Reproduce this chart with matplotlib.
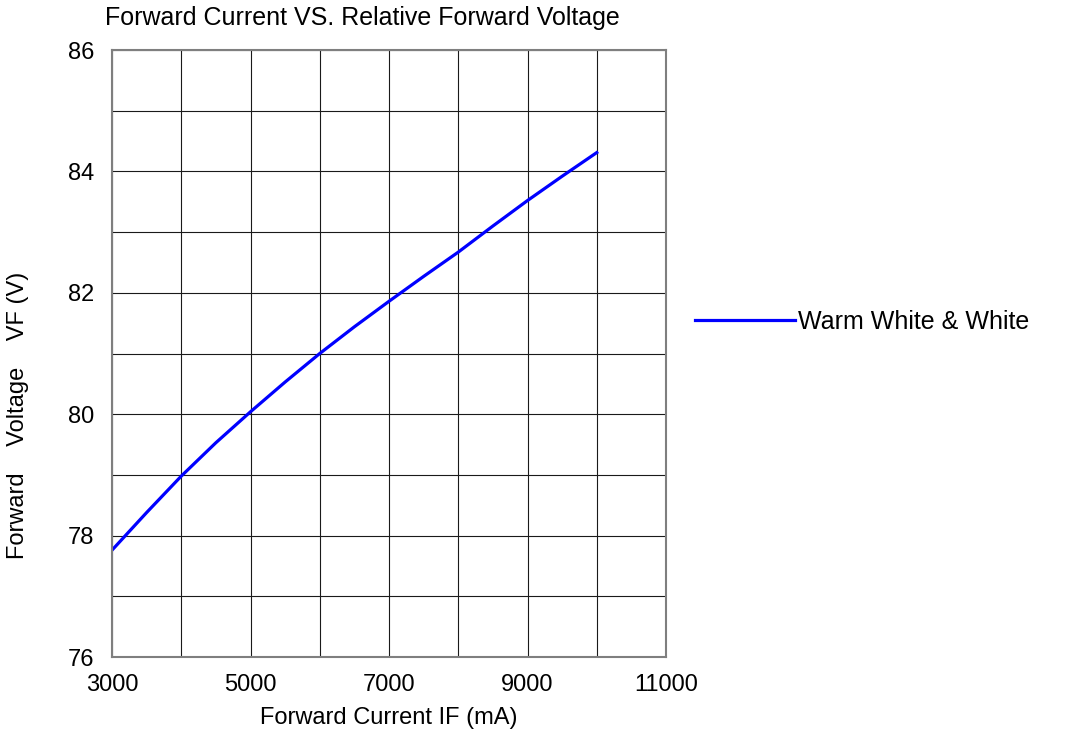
import matplotlib.pyplot as plt

plt.rcParams["font.family"] = ["Liberation Sans", "DejaVu Sans"]

current_ma = [3000, 3500, 4000, 4500, 5000, 5500, 6000, 6500, 7000, 7500, 8000, 8500, 9000, 9500, 10000]
voltage_v = [77.76, 78.38, 78.98, 79.53, 80.04, 80.53, 81.00, 81.44, 81.86, 82.27, 82.67, 83.10, 83.52, 83.92, 84.31]
series_label = "Warm White & White"

x_ticks = [3000, 5000, 7000, 9000, 11000]
y_ticks = [76, 78, 80, 82, 84, 86]

fig = plt.figure(figsize=(10.77, 7.38), dpi=100)
ax = fig.add_axes([112 / 1077, 81 / 738, 554 / 1077, 607 / 738])

line, = ax.plot(current_ma, voltage_v, color="#0000ff", linewidth=2.3, label=series_label)

ax.set_xlim(3000, 11000)
ax.set_ylim(76, 86)
ax.set_xticks(x_ticks)
ax.set_yticks(y_ticks)
ax.set_xticks(range(3000, 11001, 1000), minor=True)
ax.set_yticks(range(76, 87), minor=True)
ax.grid(which="both", color="#1a1a1a", linewidth=0.8)
ax.set_axisbelow(True)
for spine in ax.spines.values():
    spine.set_color("#7f7f7f")
    spine.set_linewidth(1.5)

ax.tick_params(which="both", length=0, labelsize=17)
ax.tick_params(axis="x", pad=12)
ax.tick_params(axis="y", pad=13)

ax.set_xlabel("Forward Current IF (mA)", fontsize=17, labelpad=8)
fig.text(18 / 1077, 1 - 415 / 738, "Forward    Voltage    VF (V)", rotation=90,
         fontsize=17, ha="center", va="center")
fig.text(105 / 1077, 1 - 18 / 738, "Forward Current VS. Relative Forward Voltage",
         fontsize=18, ha="left", va="center")

fig.legend(handles=[line], loc="center left", bbox_to_anchor=(695 / 1077, 1 - 322 / 738),
           frameon=False, fontsize=18, handlelength=4.0, handletextpad=0.1,
           borderpad=0, borderaxespad=0)

fig.savefig("out.png", dpi=100)
